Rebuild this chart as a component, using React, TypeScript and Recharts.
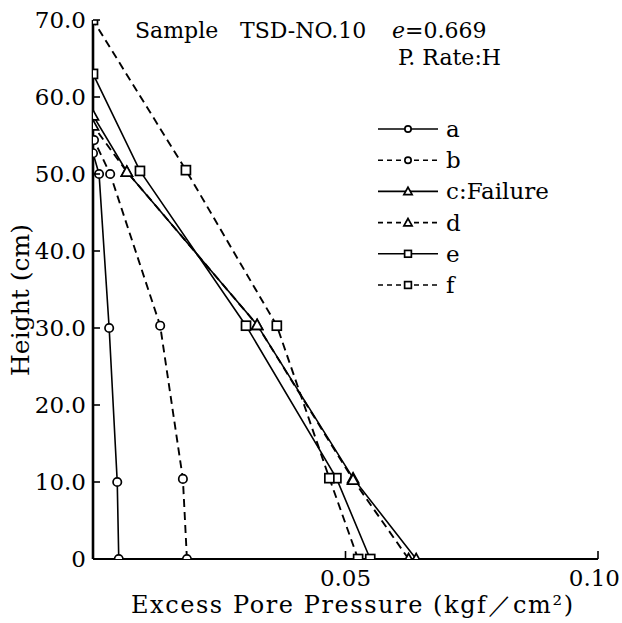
import React from "react"
import { LineChart, Line, XAxis, YAxis } from "recharts"

// heights (cm) and excess pore pressures (kgf/cm2)
const heightsA = [0, 10, 30, 50, 52.7]
const pressureA = [0.0051, 0.0048, 0.0032, 0.0012, 0]

const heightsB = [0, 10.4, 30.3, 50, 54.4]
const pressureB = [0.0186, 0.0178, 0.0133, 0.0034, 0.0002]

const heightsC = [0, 10.5, 30.4, 50.3, 57.6]
const pressureC = [0.064, 0.0515, 0.0325, 0.0067, 0]

const heightsD = [0, 10.3, 30.4, 50.3, 56.3]
const pressureD = [0.0625, 0.0515, 0.0325, 0.0067, 0]

const heightsE = [0, 10.5, 30.3, 50.4, 63]
const pressureE = [0.0549, 0.0482, 0.0303, 0.0093, 0]

const heightsF = [0, 10.5, 30.3, 50.5, 70]
const pressureF = [0.0525, 0.0468, 0.0364, 0.0184, 0]

const seriesNames = ["a", "b", "c:Failure", "d", "e", "f"]

const xTicks = [0.05, 0.1]
const xTickLabels = ["0.05", "0.10"]
const yTicks = [0, 10, 20, 30, 40, 50, 60, 70]
const yTickLabels = ["0", "10.0", "20.0", "30.0", "40.0", "50.0", "60.0", "70.0"]

const FONT = "'DejaVu Serif', serif"

const toRows = (hs: number[], ps: number[]) => ps.map((p, i) => ({ p, h: hs[i] }))

const series = [
  { name: seriesNames[0], data: toRows(heightsA, pressureA), dashed: false, mark: "circle" },
  { name: seriesNames[1], data: toRows(heightsB, pressureB), dashed: true, mark: "circle" },
  { name: seriesNames[2], data: toRows(heightsC, pressureC), dashed: false, mark: "triangle" },
  { name: seriesNames[3], data: toRows(heightsD, pressureD), dashed: true, mark: "triangle" },
  { name: seriesNames[4], data: toRows(heightsE, pressureE), dashed: false, mark: "square" },
  { name: seriesNames[5], data: toRows(heightsF, pressureF), dashed: true, mark: "square" },
]

function Marker({ x, y, mark, s = 1 }: { x: number; y: number; mark: string; s?: number }) {
  if (mark === "circle")
    return <circle cx={x} cy={y} r={4.2 * s} fill="#fff" stroke="#000" strokeWidth={1.7} />
  if (mark === "square")
    return <rect x={x - 4.5 * s} y={y - 4.5 * s} width={9 * s} height={9 * s} fill="#fff" stroke="#000" strokeWidth={1.7} />
  const r = 5.5 * s
  return (
    <polygon
      points={`${x},${y - r} ${x - r},${y + r * 0.8} ${x + r},${y + r * 0.8}`}
      fill="#fff"
      stroke="#000"
      strokeWidth={1.7}
    />
  )
}

function YTick(props: any) {
  const { x, y, payload } = props
  const label = yTickLabels[yTicks.indexOf(payload.value)]
  return (
    <g>
      {payload.value !== 0 && (
        <line x1={x + 7} x2={x + 14} y1={y} y2={y} stroke="#000" strokeWidth={1.6} />
      )}
      <text x={x} y={y} dy="0.36em" textAnchor="end" fontFamily={FONT} fontSize={23} fill="#000">
        {label}
      </text>
    </g>
  )
}

function XTick(props: any) {
  const { x, y, payload } = props
  const i = xTicks.indexOf(payload.value)
  const last = i === xTicks.length - 1
  return (
    <g>
      <line x1={x} x2={x} y1={y - 5} y2={y - 13} stroke="#000" strokeWidth={1.6} />
      <text
        x={last ? x + 22 : x}
        y={y}
        dy="0.95em"
        textAnchor={last ? "end" : "middle"}
        fontFamily={FONT}
        fontSize={23}
        fill="#000"
      >
        {xTickLabels[i]}
      </text>
    </g>
  )
}

export default function App() {
  return (
    <div style={{ position: "absolute", left: 0, top: 0, width: 622, height: 623, background: "#fff" }}>
      <LineChart width={622} height={623} margin={{ top: 20, right: 24, bottom: 34, left: 13 }}>
        <XAxis
          dataKey="p"
          type="number"
          domain={[0, 0.1]}
          ticks={xTicks}
          height={30}
          tick={<XTick />}
          tickLine={false}
          tickSize={0}
          tickMargin={5}
          axisLine={{ stroke: "#000", strokeWidth: 2.2 }}
          allowDataOverflow
        />
        <YAxis
          dataKey="h"
          type="number"
          domain={[0, 70]}
          ticks={yTicks}
          width={80}
          tick={<YTick />}
          tickLine={false}
          tickSize={0}
          tickMargin={7}
          axisLine={{ stroke: "#000", strokeWidth: 2.6 }}
          allowDataOverflow
        />
        {series.map((s) => (
          <Line
            key={s.name}
            data={s.data}
            dataKey="h"
            name={s.name}
            type="linear"
            stroke="#000"
            strokeWidth={s.dashed ? 1.9 : 1.6}
            strokeDasharray={s.dashed ? "8 5" : undefined}
            isAnimationActive={false}
            dot={(p: any) => <Marker key={`${s.name}-${p.index}`} x={p.cx} y={p.cy} mark={s.mark} />}
            activeDot={false}
          />
        ))}
      </LineChart>

      <svg
        width={622}
        height={623}
        style={{ position: "absolute", left: 0, top: 0, pointerEvents: "none" }}
        fontFamily={FONT}
      >
        <text x={135} y={38} fontSize={22}>Sample</text>
        <text x={240} y={38} fontSize={22}>TSD-NO.10</text>
        <text x={392} y={38} fontSize={22}>
          <tspan fontStyle="italic">e</tspan>=0.669
        </text>
        <text x={398} y={65} fontSize={22}>P. Rate:H</text>

        {series.map((s, i) => {
          const y = 129 + i * 31.2
          return (
            <g key={s.name}>
              <line
                x1={378}
                x2={438}
                y1={y}
                y2={y}
                stroke="#000"
                strokeWidth={1.6}
                strokeDasharray={s.dashed ? "5 4" : undefined}
              />
              <Marker x={408} y={y} mark={s.mark} s={0.75} />
              <text x={446} y={y + 8} fontSize={23}>{s.name}</text>
            </g>
          )
        })}

        <text x={131} y={613} fontSize={24} textLength={442} lengthAdjust="spacing">
          Excess Pore Pressure (kgf／cm²)
        </text>
        <text transform="translate(29 300) rotate(-90)" textAnchor="middle" fontSize={25}>
          Height (cm)
        </text>
      </svg>
    </div>
  )
}
